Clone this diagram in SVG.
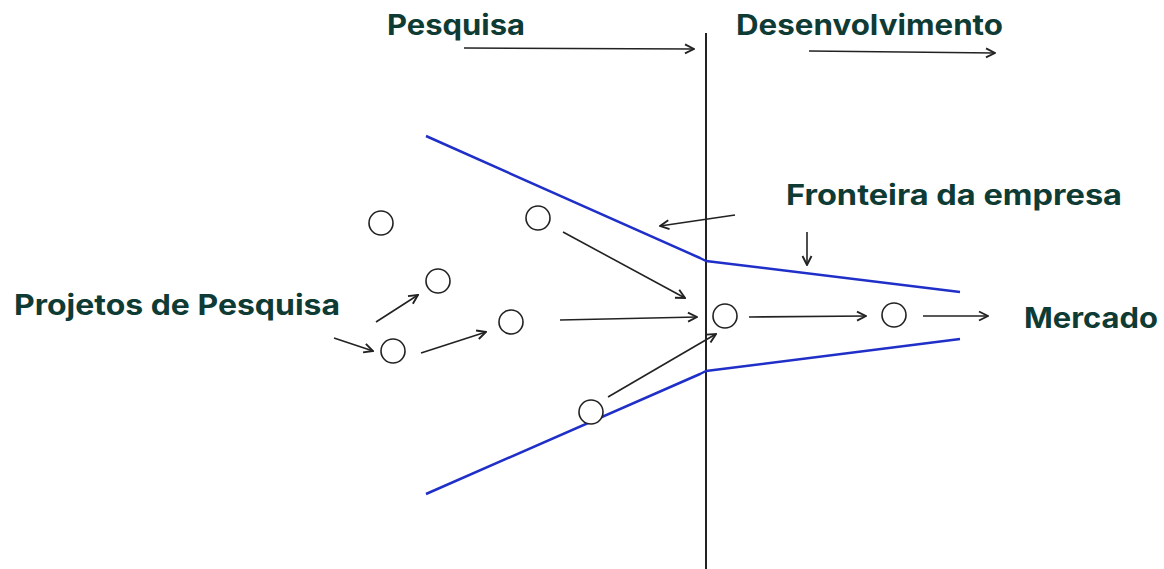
<svg xmlns="http://www.w3.org/2000/svg" width="1164" height="569" viewBox="0 0 1164 569">
<style>
.t{font-family:Inter,"Noto Sans","Liberation Sans",sans-serif;font-weight:700;font-size:28px;fill:#0f3b35}
.n{fill:#fff;stroke:#222;stroke-width:1.6}
.a{fill:none;stroke:#222;stroke-width:1.6;marker-end:url(#ah)}
.b{fill:none;stroke:#1f2fc8;stroke-width:2.5;stroke-linejoin:round}
</style>
<defs>
<marker id="ah" viewBox="0 0 12 12" refX="11" refY="6" markerWidth="12" markerHeight="12" markerUnits="userSpaceOnUse" orient="auto">
<path d="M2,1.5 L11,6 L2,10.5" fill="none" stroke="#222" stroke-width="1.9"/>
</marker>
</defs>
<rect width="1164" height="569" fill="#fff"/>
<g id="divider"><line x1="706" y1="33" x2="706" y2="569" stroke="#222" stroke-width="2"/></g>
<g id="boundary">
<polyline class="b" points="426,136 700,258 706,261 960,292"/>
<polyline class="b" points="426,494 700,374 706,371 960,339"/>
</g>
<g id="labels">
<text class="t" x="387" y="35" textLength="138" lengthAdjust="spacingAndGlyphs">Pesquisa</text>
<text class="t" x="736" y="35" textLength="267" lengthAdjust="spacingAndGlyphs">Desenvolvimento</text>
<text class="t" x="786" y="205" textLength="336" lengthAdjust="spacingAndGlyphs">Fronteira da empresa</text>
<text class="t" x="1024" y="328" textLength="134" lengthAdjust="spacingAndGlyphs">Mercado</text>
<text class="t" x="14" y="315" textLength="326" lengthAdjust="spacingAndGlyphs">Projetos de Pesquisa</text>
</g>
<g id="n1"><circle class="n" cx="381" cy="223" r="12"/></g>
<g id="n2"><circle class="n" cx="538" cy="218" r="12"/></g>
<g id="n3"><circle class="n" cx="438" cy="281" r="12"/></g>
<g id="n4"><circle class="n" cx="393" cy="351" r="12"/></g>
<g id="n5"><circle class="n" cx="511" cy="322" r="12"/></g>
<g id="n6"><circle class="n" cx="591" cy="412" r="12"/></g>
<g id="n7"><circle class="n" cx="725" cy="316" r="12"/></g>
<g id="n8"><circle class="n" cx="894" cy="315" r="12"/></g>
<g id="connectors">
<line class="a" x1="464" y1="48" x2="694" y2="49"/>
<line class="a" x1="809" y1="51" x2="995" y2="53"/>
<line class="a" x1="735" y1="215" x2="660" y2="226"/>
<line class="a" x1="807" y1="232" x2="807" y2="265"/>
<line class="a" x1="563" y1="232" x2="685" y2="298"/>
<line class="a" x1="560" y1="320" x2="697" y2="317"/>
<line class="a" x1="608" y1="397" x2="716" y2="334"/>
<line class="a" x1="376" y1="322" x2="418" y2="295"/>
<line class="a" x1="334" y1="338" x2="373" y2="351"/>
<line class="a" x1="421" y1="353" x2="486" y2="332"/>
<line class="a" x1="749" y1="317" x2="866" y2="316"/>
<line class="a" x1="923" y1="316" x2="988" y2="316"/>
</g>
</svg>
